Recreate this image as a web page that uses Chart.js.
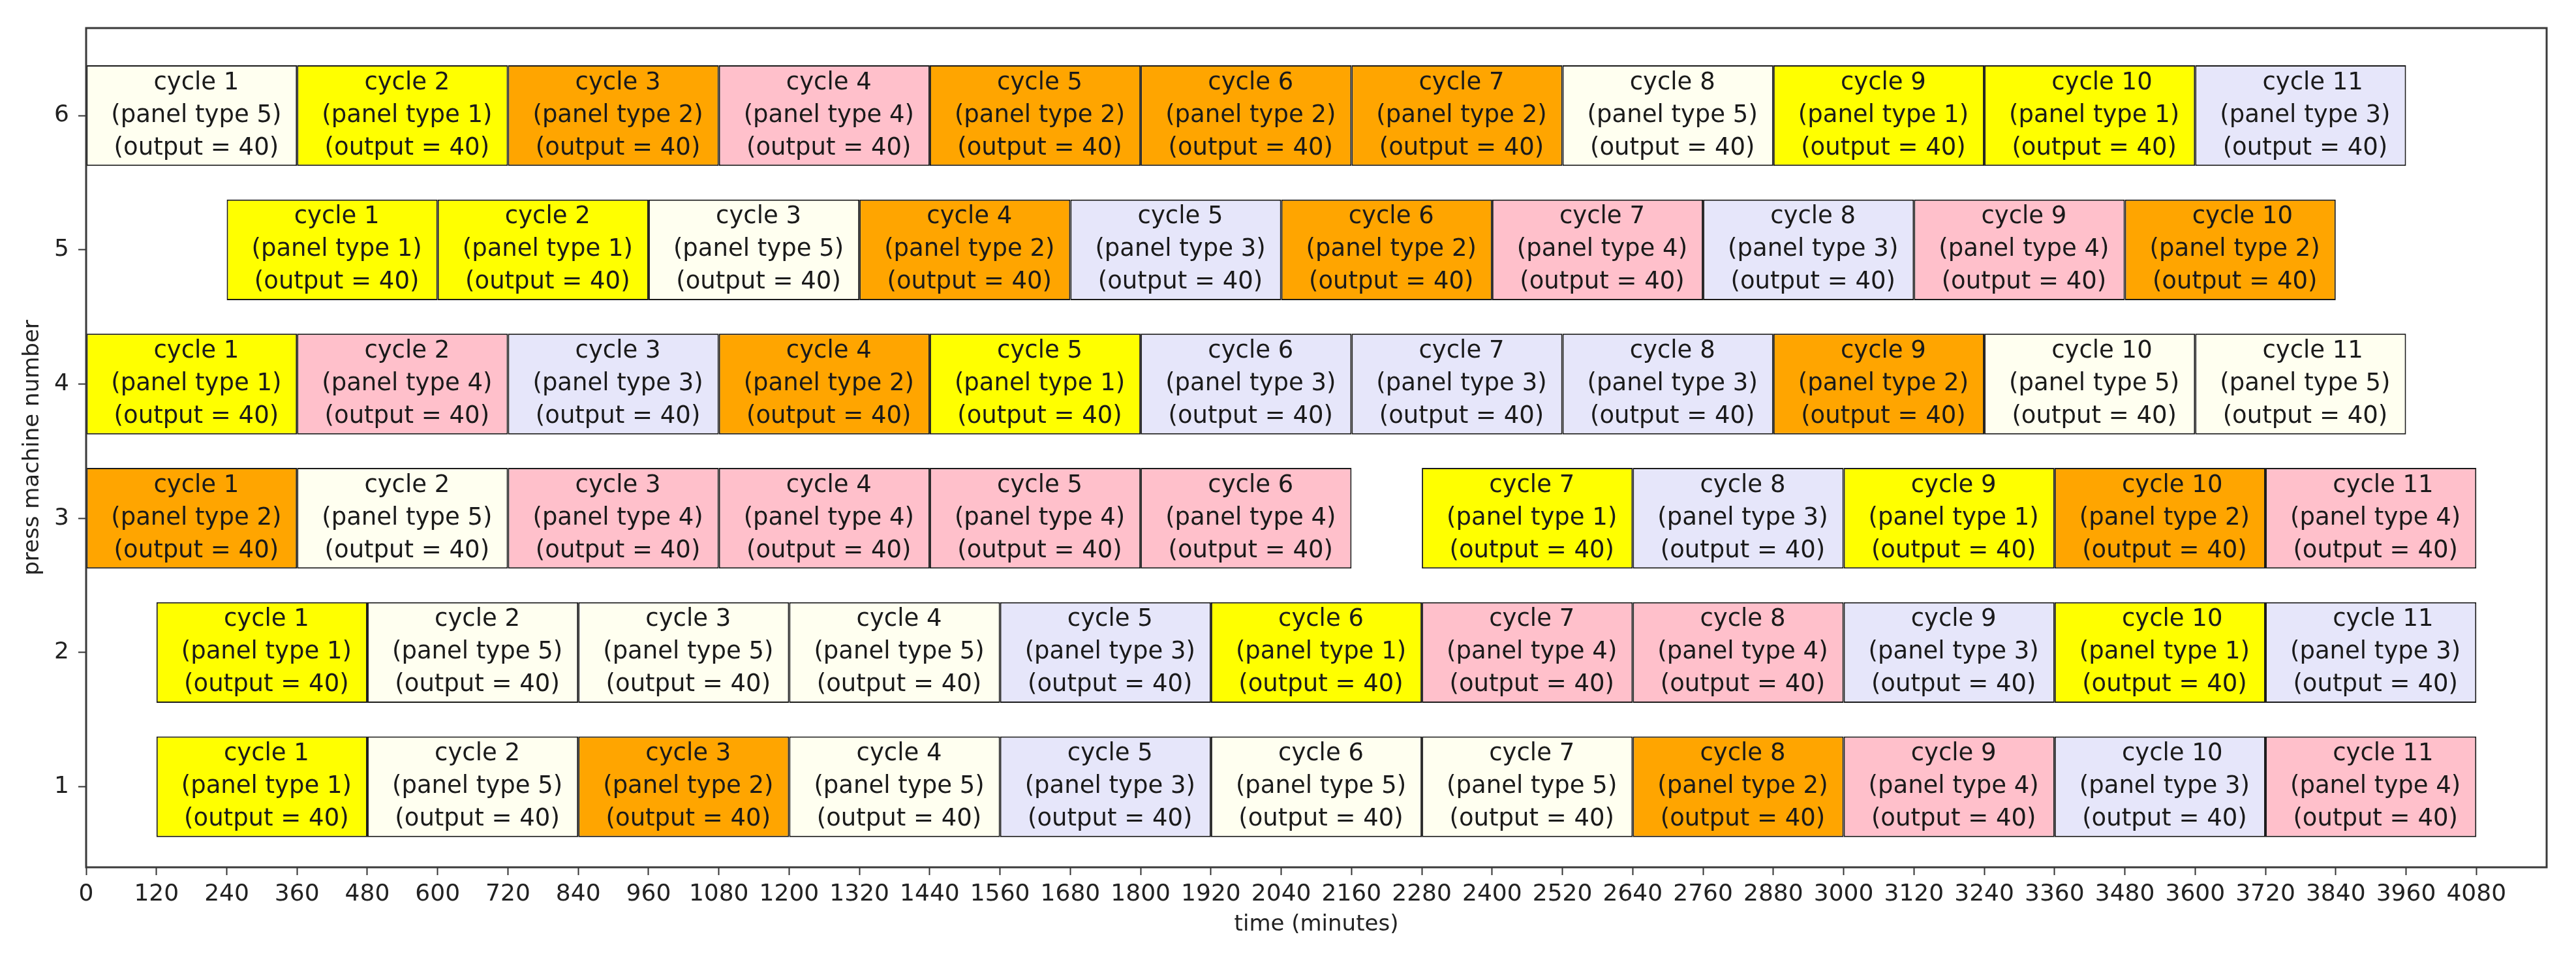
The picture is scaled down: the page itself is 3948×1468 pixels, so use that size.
<!DOCTYPE html>
<html>
<head>
<meta charset="utf-8">
<script src="https://cdn.jsdelivr.net/npm/chart.js@4.4.1/dist/chart.umd.min.js"></script>
<style>
    html, body { margin: 0; padding: 0; background: #fff; }
    #ganttChart { display: block; }
</style>
</head>
<body>
<canvas id="ganttChart" width="3948" height="1468"></canvas>
<script>
// Press schedule data (minutes)
const machines = [1, 2, 3, 4, 5, 6];
const cycleMinutes = 360;
const cycleOutput = 40;

// start time of every cycle on each press
const press1Starts = [120, 480, 840, 1200, 1560, 1920, 2280, 2640, 3000, 3360, 3720];
const press2Starts = [120, 480, 840, 1200, 1560, 1920, 2280, 2640, 3000, 3360, 3720];
const press3Starts = [0, 360, 720, 1080, 1440, 1800, 2280, 2640, 3000, 3360, 3720];
const press4Starts = [0, 360, 720, 1080, 1440, 1800, 2160, 2520, 2880, 3240, 3600];
const press5Starts = [240, 600, 960, 1320, 1680, 2040, 2400, 2760, 3120, 3480];
const press6Starts = [0, 360, 720, 1080, 1440, 1800, 2160, 2520, 2880, 3240, 3600];

// panel type made in each cycle
const press1Types = [1, 5, 2, 5, 3, 5, 5, 2, 4, 3, 4];
const press2Types = [1, 5, 5, 5, 3, 1, 4, 4, 3, 1, 3];
const press3Types = [2, 5, 4, 4, 4, 4, 1, 3, 1, 2, 4];
const press4Types = [1, 4, 3, 2, 1, 3, 3, 3, 2, 5, 5];
const press5Types = [1, 1, 5, 2, 3, 2, 4, 3, 4, 2];
const press6Types = [5, 1, 2, 4, 2, 2, 2, 5, 1, 1, 3];

const xTicks = [0, 120, 240, 360, 480, 600, 720, 840, 960, 1080, 1200, 1320, 1440, 1560, 1680, 1800,
    1920, 2040, 2160, 2280, 2400, 2520, 2640, 2760, 2880, 3000, 3120, 3240, 3360, 3480, 3600, 3720,
    3840, 3960, 4080];
const yTicks = [1, 2, 3, 4, 5, 6];

const panelColors = {
    1: '#ffff00',
    2: '#ffa500',
    3: '#e6e6fa',
    4: '#ffc0cb',
    5: '#fffff0'
};

const pressStarts = [press1Starts, press2Starts, press3Starts, press4Starts, press5Starts, press6Starts];
const pressTypes = [press1Types, press2Types, press3Types, press4Types, press5Types, press6Types];

const FONT = 'DejaVu Sans';

// write the three text lines inside every bar
const cycleLabels = {
    id: 'cycleLabels',
    afterDatasetsDraw(chart) {
        const ctx = chart.ctx;
        ctx.save();
        ctx.font = '37px "' + FONT + '"';
        ctx.fillStyle = '#1a1a1a';
        ctx.textBaseline = 'middle';
        const firstWidth = ctx.measureText('cycle 1').width;
        chart.data.datasets.forEach((ds, di) => {
            const meta = chart.getDatasetMeta(di);
            meta.data.forEach((bar, i) => {
                const item = ds.data[i];
                const cx = (bar.x + bar.base) / 2 + 7;
                const cy = bar.y;
                ctx.textAlign = 'left';
                ctx.fillText('cycle ' + item.cycle, cx - firstWidth / 2, cy - 50);
                ctx.textAlign = 'center';
                ctx.fillText('(panel type ' + item.type + ')', cx, cy);
                ctx.fillText('(output = ' + item.output + ')', cx, cy + 50);
            });
        });
        ctx.restore();
    }
};

// box around the plot area
const plotFrame = {
    id: 'plotFrame',
    afterDraw(chart) {
        const {ctx, chartArea} = chart;
        ctx.save();
        ctx.strokeStyle = '#3a3a3a';
        ctx.lineWidth = 3;
        ctx.strokeRect(chartArea.left, chartArea.top, chartArea.right - chartArea.left, chartArea.bottom - chartArea.top);
        ctx.restore();
    }
};

document.addEventListener('DOMContentLoaded', function() {
    initGanttChart();
});

function initGanttChart() {
    const ctx = document.getElementById('ganttChart');
    if (!ctx) return;

    const datasets = machines.map((m, k) => ({
        label: 'press ' + m,
        data: pressStarts[k].map((start, i) => ({
            x: [start, start + cycleMinutes],
            y: m,
            cycle: i + 1,
            type: pressTypes[k][i],
            output: cycleOutput
        })),
        backgroundColor: pressTypes[k].map(t => panelColors[t]),
        borderColor: '#1a1a1a',
        borderWidth: 2,
        borderSkipped: false,
        grouped: false,
        barPercentage: 0.75,
        categoryPercentage: 1
    }));

    new Chart(ctx, {
        type: 'bar',
        data: { datasets: datasets },
        plugins: [cycleLabels, plotFrame],
        options: {
            indexAxis: 'y',
            responsive: false,
            animation: false,
            layout: {
                padding: { left: 0, top: 43, right: 45, bottom: 0 }
            },
            plugins: {
                legend: { display: false },
                tooltip: { enabled: false }
            },
            scales: {
                x: {
                    type: 'linear',
                    min: 0,
                    max: 4200,
                    afterBuildTicks: scale => { scale.ticks = xTicks.map(v => ({ value: v })); },
                    afterFit: scale => { scale.height = 139; },
                    border: { display: false },
                    grid: {
                        drawOnChartArea: false,
                        drawTicks: true,
                        tickLength: 12,
                        tickWidth: 2,
                        tickColor: '#333'
                    },
                    ticks: {
                        autoSkip: false,
                        maxRotation: 0,
                        padding: 8,
                        color: '#222',
                        font: { family: FONT, size: 36 },
                        callback: value => String(value)
                    },
                    title: {
                        display: true,
                        text: 'time (minutes)',
                        color: '#222',
                        font: { family: FONT, size: 34 },
                        padding: { top: 0, bottom: 30 }
                    }
                },
                y: {
                    type: 'linear',
                    min: 0.4,
                    max: 6.652,
                    offset: false,
                    afterBuildTicks: scale => { scale.ticks = yTicks.map(v => ({ value: v })); },
                    afterFit: scale => { scale.width = 132; },
                    border: { display: false },
                    grid: {
                        offset: false,
                        drawOnChartArea: false,
                        drawTicks: true,
                        tickLength: 12,
                        tickWidth: 2,
                        tickColor: '#333'
                    },
                    ticks: {
                        padding: 14,
                        color: '#222',
                        font: { family: FONT, size: 36 },
                        callback: value => String(value)
                    },
                    title: {
                        display: true,
                        text: 'press machine number',
                        color: '#222',
                        font: { family: FONT, size: 34 },
                        padding: { top: 30, bottom: 0 }
                    }
                }
            }
        }
    });
}
</script>
</body>
</html>
